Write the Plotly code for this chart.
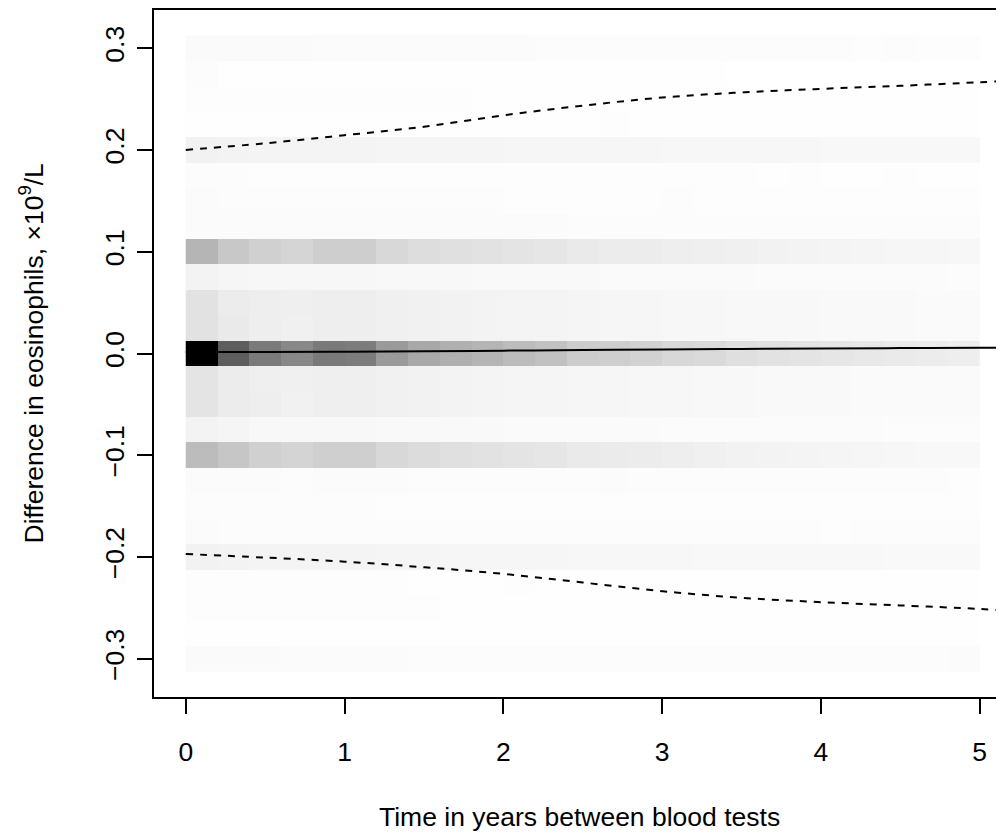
import plotly.graph_objects as go

# ---- data ----
# column centres (years) and row centres (difference, x10^9/L)
time_bins = [0.1 + 0.2 * i for i in range(25)]
diff_bins = [round(-0.3 + 0.025 * j, 3) for j in range(25)]

# cell shading (darkness 0..255), one list per row, rows from top (0.3) to bottom (-0.3)
row_p300 = [5,5,5,5,4,4,4,4,4,4,4,3,3,3,3,3,3,3,3,3,3,2,3,2,2]
row_p275 = [3,1,1,1,1,1,1,1,1,1,1,1,1,1,1,1,1,0,0,0,0,0,0,0,0]
row_p250 = [2,2,2,2,2,2,2,2,2,1,1,1,1,1,1,1,1,1,1,1,1,1,1,1,1]
row_p225 = [1,1,1,1,1,1,1,1,1,1,1,1,1,2,1,1,1,1,1,1,1,1,1,1,1]
row_p200 = [13,12,11,11,11,11,10,10,10,10,9,9,9,9,9,8,8,8,8,8,7,7,7,7,7]
row_p175 = [3,3,2,2,2,2,2,2,2,2,2,2,2,2,2,2,2,2,1,2,1,1,2,1,1]
row_p150 = [4,3,3,3,3,3,3,3,3,3,2,2,2,2,2,3,2,2,2,2,2,2,2,2,2]
row_p125 = [4,4,4,4,4,4,4,4,4,4,4,4,3,3,3,3,3,3,3,3,3,3,3,3,3]
row_p100 = [74,55,47,42,49,49,39,34,31,29,27,25,21,19,19,17,16,15,13,12,11,10,9,9,8]
row_p075 = [12,9,8,8,8,8,7,7,7,6,6,6,6,5,5,5,5,5,4,4,4,4,4,4,3]
row_p050 = [29,19,17,16,17,17,15,14,13,12,11,11,10,9,9,8,8,7,7,7,6,6,6,5,5]
row_p025 = [29,21,17,15,17,17,15,14,13,12,11,11,10,9,9,8,8,7,7,7,6,6,6,5,5]
row_000 = [255,162,133,119,134,131,101,87,79,74,67,62,51,49,45,39,37,32,29,27,25,23,21,19,17]
row_m025 = [27,19,16,15,16,16,14,13,12,11,10,10,9,9,8,8,7,7,6,6,6,5,5,5,5]
row_m050 = [27,19,17,14,16,16,14,13,12,11,10,10,9,9,8,8,7,7,6,6,6,5,5,5,5]
row_m075 = [12,10,7,7,7,7,6,6,6,6,5,5,5,5,5,4,4,4,4,4,4,4,3,3,3]
row_m100 = [67,57,47,43,48,48,39,35,31,29,27,25,21,20,19,17,15,13,12,11,10,9,8,7,7]
row_m125 = [4,4,4,3,4,4,4,3,3,3,3,3,3,4,3,3,3,3,3,3,3,3,3,3,2]
row_m150 = [3,3,3,3,3,3,2,2,2,2,2,2,2,2,2,2,2,2,2,2,2,2,2,2,2]
row_m175 = [4,3,3,3,3,3,3,3,3,3,3,3,3,3,3,3,3,3,3,3,2,3,3,3,3]
row_m200 = [13,12,11,11,11,11,10,10,9,9,9,9,8,8,8,8,7,7,7,7,7,7,6,6,6]
row_m225 = [2,2,2,2,2,2,2,1,1,1,2,1,1,1,1,1,1,1,1,1,1,1,1,1,1]
row_m250 = [2,2,2,2,2,2,2,2,1,1,1,1,1,1,1,1,1,1,1,1,1,1,1,1,1]
row_m275 = [1,1,1,1,1,1,1,1,1,1,1,1,1,1,1,1,1,1,1,1,1,1,1,1,1]
row_m300 = [5,5,5,4,4,4,4,3,3,3,3,3,3,3,3,3,3,3,3,3,3,3,3,3,4]

rows_top_down = [row_p300, row_p275, row_p250, row_p225, row_p200, row_p175,
                 row_p150, row_p125, row_p100, row_p075, row_p050, row_p025,
                 row_000, row_m025, row_m050, row_m075, row_m100, row_m125,
                 row_m150, row_m175, row_m200, row_m225, row_m250, row_m275,
                 row_m300]

# fitted mean and limits
curve_t = [0, 0.5, 1, 1.5, 2, 2.5, 3, 3.5, 4, 4.5, 5, 5.2]
mean_diff = [0.0015, 0.0015, 0.0018, 0.0022, 0.0028, 0.0034, 0.0040, 0.0045, 0.0050, 0.0053, 0.0056, 0.0057]
upper_lim = [0.200, 0.2065, 0.2145, 0.2228, 0.234, 0.2435, 0.2515, 0.2565, 0.2600, 0.2630, 0.2665, 0.2680]
lower_lim = [-0.197, -0.2005, -0.2045, -0.2100, -0.2165, -0.2250, -0.2335, -0.2400, -0.2443, -0.2475, -0.2510, -0.2530]

x_ticks = [0, 1, 2, 3, 4, 5]
y_ticks = [-0.3, -0.2, -0.1, 0.0, 0.1, 0.2, 0.3]
y_tick_text = ["\u22120.3", "\u22120.2", "\u22120.1", "0.0", "0.1", "0.2", "0.3"]

# ---- figure ----
z = list(reversed(rows_top_down))  # bottom-up to match diff_bins

fig = go.Figure()
fig.add_trace(go.Heatmap(
    x=time_bins, y=diff_bins, z=z,
    zmin=0, zmax=255,
    colorscale=[[0, "rgb(255,255,255)"], [1, "rgb(0,0,0)"]],
    showscale=False, zsmooth=False, hoverinfo="skip",
))
fig.add_trace(go.Scatter(x=curve_t, y=mean_diff, mode="lines",
                         line=dict(color="black", width=2, shape="spline"),
                         hoverinfo="skip"))
for lim in (upper_lim, lower_lim):
    fig.add_trace(go.Scatter(x=curve_t, y=lim, mode="lines",
                             line=dict(color="black", width=2, dash="7px,7px", shape="spline"),
                             hoverinfo="skip"))

font_family = "Liberation Sans, Arial, Helvetica, sans-serif"
FS = 26.5
fig.update_layout(
    width=996, height=826,
    margin=dict(l=146, r=0, t=2, b=137),
    paper_bgcolor="white", plot_bgcolor="white",
    showlegend=False,
    font=dict(family=font_family, size=FS, color="black"),
    xaxis=dict(range=[-0.2, 5.154], tickvals=x_ticks, ticktext=[str(v) for v in x_ticks],
               showgrid=False, zeroline=False, showline=True, linecolor="black", linewidth=1.5,
               mirror=True, ticks="outside", ticklen=15, tickwidth=1.5, tickcolor="black",
               ticklabelstandoff=15, tickfont=dict(size=FS)),
    yaxis=dict(range=[-0.3375, 0.3375], tickvals=y_ticks, ticktext=y_tick_text,
               showgrid=False, zeroline=False, showline=True, linecolor="black", linewidth=1.5,
               mirror=False, ticks="outside", ticklen=15, tickwidth=1.5, tickcolor="black",
               tickangle=-90, ticklabelstandoff=3, tickfont=dict(size=FS)),
    annotations=[
        dict(text="Time in years between blood tests", xref="paper", yref="paper",
             x=0.5, y=-0.175, xanchor="center", yanchor="middle", showarrow=False,
             font=dict(size=FS)),
        dict(text="Difference in eosinophils, \u00d710<sup>9</sup>/L", xref="paper", yref="paper",
             x=0, y=0.5, xanchor="center", yanchor="middle", showarrow=False,
             textangle=-90, font=dict(size=FS), xshift=-123),
    ],
)

fig.write_html("out.html")
